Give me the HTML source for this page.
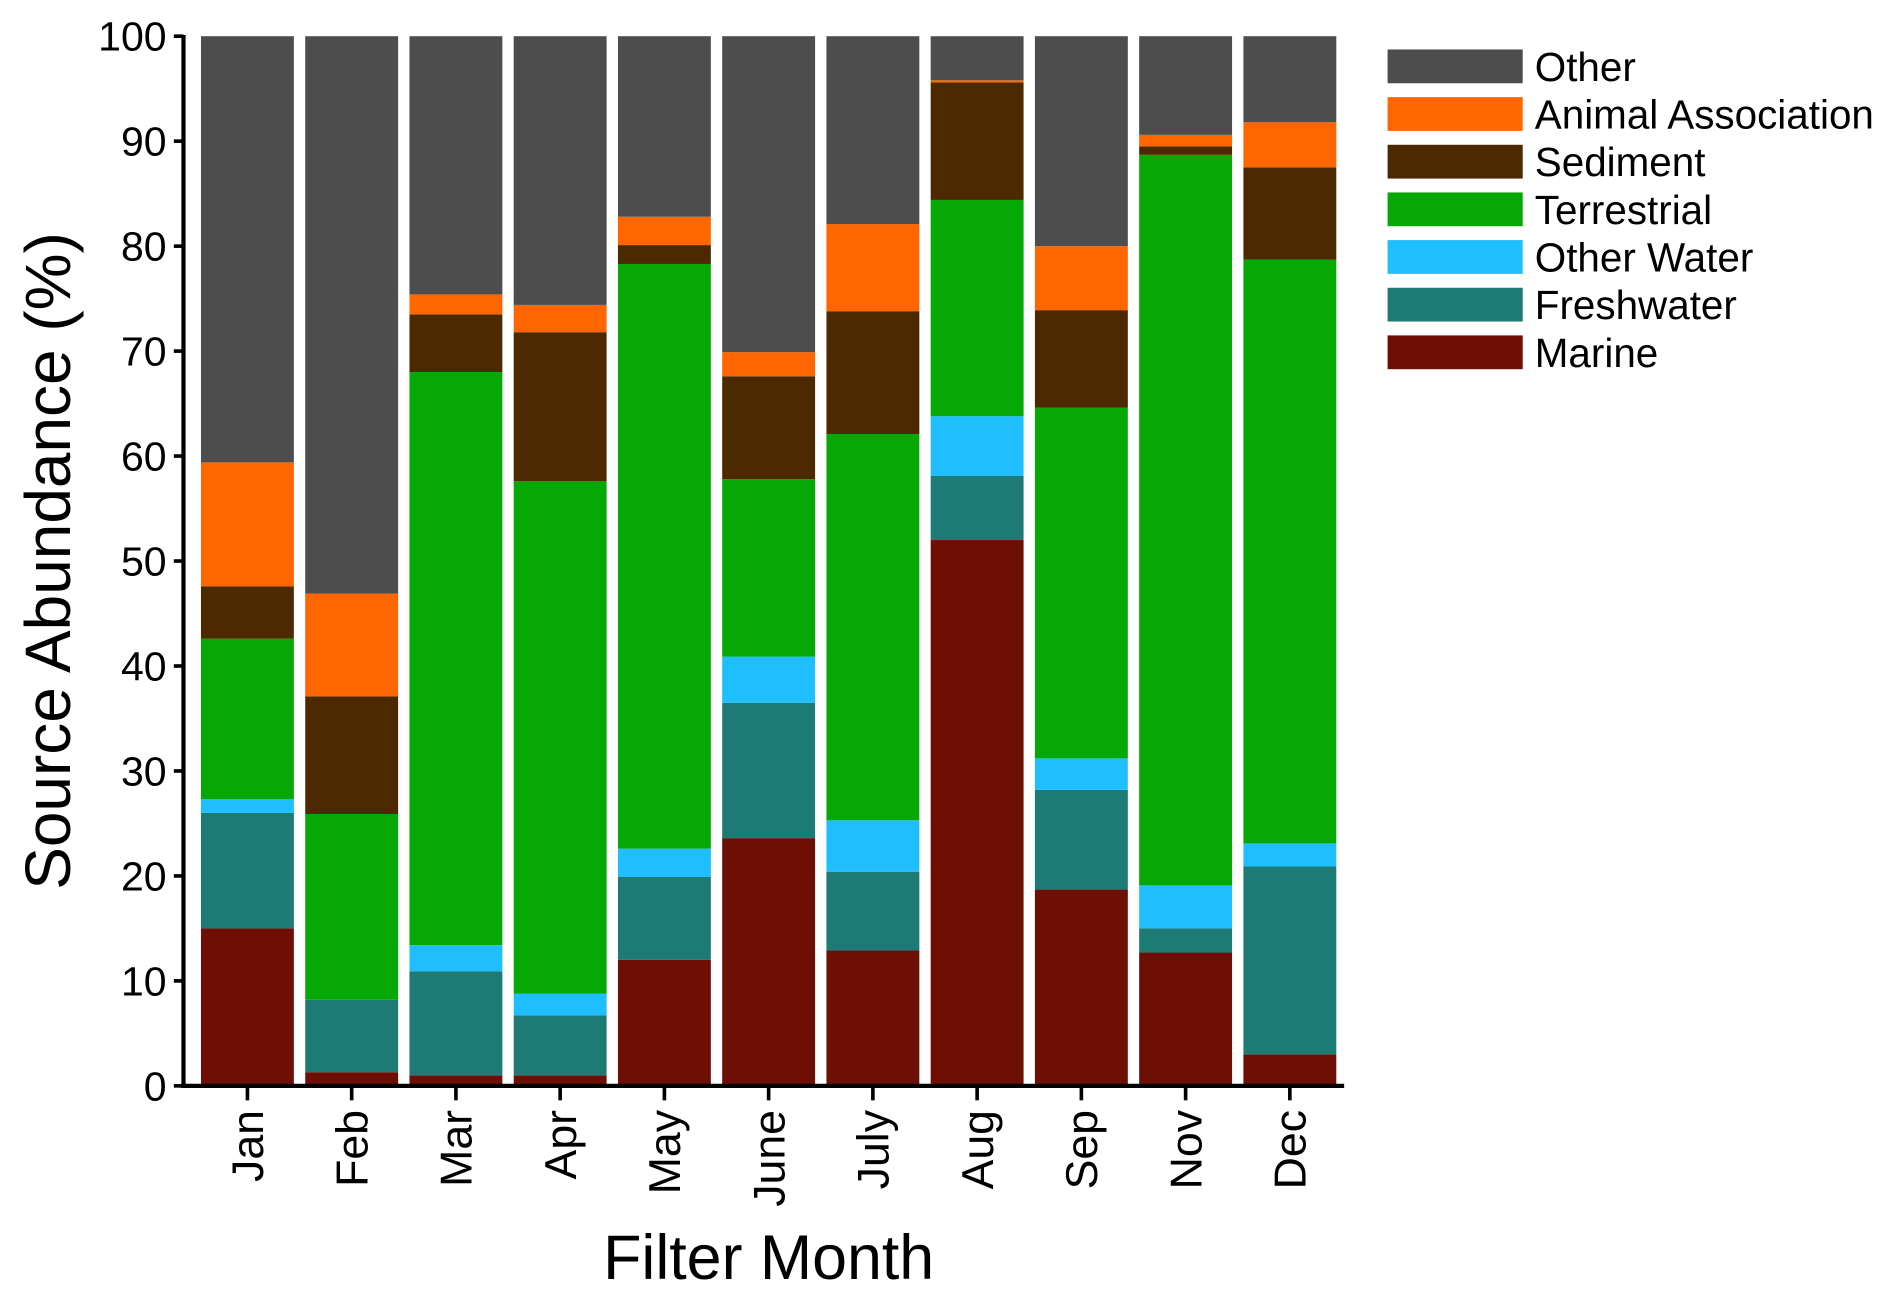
<!DOCTYPE html>
<html><head><meta charset="utf-8"><style>
html,body{margin:0;padding:0;background:#fff;}
svg{display:block;font-family:"Liberation Sans",Arial,sans-serif;}
</style></head><body>
<svg id="chart" width="1892" height="1297" viewBox="0 0 1568 1075" xmlns="http://www.w3.org/2000/svg">
<rect width="1568" height="1075" fill="#fff"/>
<g id="bars"></g>
<g id="axes"></g>
<g id="legend"></g>
<text transform="translate(58,465) rotate(-90)" text-anchor="middle" font-size="53" fill="#000">Source Abundance (%)</text>
<text x="637" y="1060" text-anchor="middle" font-size="52" fill="#000">Filter Month</text>
</svg>
<script>
const months = ["Jan","Feb","Mar","Apr","May","June","July","Aug","Sep","Nov","Dec"];
const seriesNames = ["Marine","Freshwater","Other Water","Terrestrial","Sediment","Animal Association","Other"];
const seriesColors = ["#6e0f05","#1d7a75","#1fbfff","#05a805","#4d2900","#ff6600","#4d4d4d"];
const marine      = [15, 1.3, 1, 1, 12, 23.6, 12.9, 52, 18.7, 12.7, 3];
const freshwater  = [11, 6.9, 9.9, 5.7, 7.9, 12.9, 7.5, 6.1, 9.5, 2.3, 17.9];
const otherWater  = [1.3, 0, 2.5, 2.1, 2.7, 4.4, 4.9, 5.7, 3, 4.1, 2.2];
const terrestrial = [15.3, 17.7, 54.6, 48.8, 55.7, 16.9, 36.8, 20.6, 33.4, 69.6, 55.6];
const sediment    = [5, 11.2, 5.5, 14.2, 1.8, 9.8, 11.7, 11.2, 9.3, 0.8, 8.8];
const animal      = [11.8, 9.8, 1.9, 2.6, 2.7, 2.3, 8.3, 0.2, 6.1, 1.1, 4.3];
const other       = [40.6, 53.1, 24.6, 25.6, 17.2, 30.1, 17.9, 4.2, 20, 9.4, 8.2];
const yTicks = [0,10,20,30,40,50,60,70,80,90,100];

const NS = "http://www.w3.org/2000/svg";
const series = [marine, freshwater, otherWater, terrestrial, sediment, animal, other];
const y = v => 900 - v * 8.7;
const xc = i => 205 + i * 86.4;
const bw = 77;
function mk(tag, attrs, parent){const e=document.createElementNS(NS,tag);for(const k in attrs)e.setAttribute(k,attrs[k]);parent.appendChild(e);return e;}
const gb = document.getElementById('bars');
months.forEach((m,i)=>{
  let base = 0;
  series.forEach((s,j)=>{
    const v = s[i];
    const r = mk('rect',{x:xc(i)-bw/2, y:y(base+v), width:bw, height:Math.max(0,y(base)-y(base+v)), fill:seriesColors[j]}, gb);
    
    
    base += v;
  });
});
const ga = document.getElementById('axes');
const yl = mk('line',{x1:152,y1:29,x2:152,y2:901,stroke:'#000','stroke-width':3.5},ga);


const xl = mk('line',{x1:150,y1:900,x2:1114,y2:900,stroke:'#000','stroke-width':3.5},ga);


yTicks.forEach(t=>{
  mk('line',{x1:144,y1:y(t),x2:152,y2:y(t),stroke:'#000','stroke-width':3},ga);
  const tx = mk('text',{x:138,y:y(t)+12,'text-anchor':'end','font-size':34,fill:'#000'},ga);
  tx.textContent = t;
  
  
});
months.forEach((m,i)=>{
  mk('line',{x1:xc(i),y1:900,x2:xc(i),y2:912,stroke:'#000','stroke-width':3},ga);
  const tx = mk('text',{transform:`translate(${xc(i)+13},920) rotate(-90)`,'text-anchor':'end','font-size':37,fill:'#000'},ga);
  tx.textContent = m;
  
  
});
const gl = document.getElementById('legend');
for(let k=0;k<7;k++){
  const j = 6-k;
  const cy = 55 + k*39.5;
  const sw = mk('rect',{x:1150,y:cy-14,width:112,height:28,fill:seriesColors[j]},gl);
  
  
  const tx = mk('text',{x:1272,y:cy+12,'font-size':33.5,fill:'#000'},gl);
  tx.textContent = seriesNames[j];
  
  
}
</script>
</body></html>
